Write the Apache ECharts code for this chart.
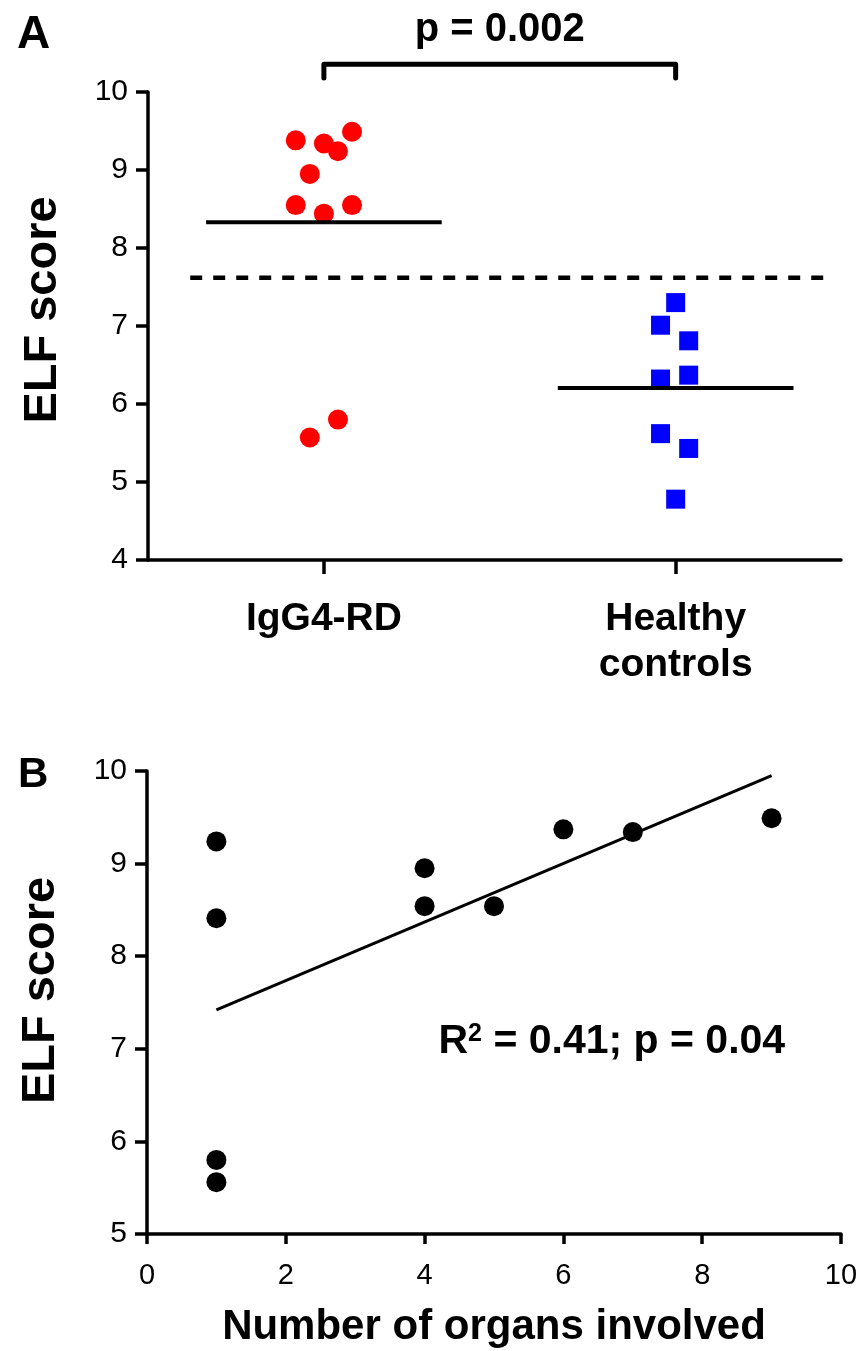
<!DOCTYPE html>
<html><head><meta charset="utf-8">
<script src="https://cdn.jsdelivr.net/npm/echarts@6/dist/echarts.min.js"></script>
<style>html,body{margin:0;padding:0;background:#fff}#c{width:862px;height:1351px}</style>
</head><body><div id="c"></div>
<script>
// ---- Panel A data ----
const groups = ['IgG4-RD', 'Healthy\ncontrols'];
const igg4Values = [9.38, 9.34, 9.24, 9.49, 8.95, 8.55, 8.44, 8.55, 5.80, 5.57];
const igg4Jitter = [-0.08, 0, 0.04, 0.08, -0.04, -0.08, 0, 0.08, 0.04, -0.04];
const controlValues = [7.30, 7.01, 6.81, 6.32, 6.37, 5.62, 5.43, 4.78];
const controlJitter = [0, -0.043, 0.037, -0.043, 0.037, -0.043, 0.037, 0];
const cutoffValue = 7.62;
const cutoffSpan = [0.62, 2.45];
const pValueText = 'p = 0.002';
const yRangeA = [4, 10];
// ---- Panel B data ----
const organsInvolved = [1, 1, 1, 1, 4, 4, 5, 6, 7, 9];
const elfScoresB = [9.24, 8.41, 5.80, 5.56, 8.95, 8.54, 8.54, 9.37, 9.34, 9.49];
const fitX = [1, 9];
const fitY = [7.42, 9.95];
const yRangeB = [5, 10];
const xRangeB = [0, 10];
const statText = ['R', '2', ' = 0.41; p = 0.04'];

const FONT = '"Liberation Sans", Arial, Helvetica, sans-serif';
const mean = a => a.reduce((s, v) => s + v, 0) / a.length;
const meanHalf = 0.335;

const chart = echarts.init(document.getElementById('c'), null, {renderer: 'canvas'});

const axisLine = {show: true, lineStyle: {color: '#000', width: 3.5}};
const tickStyle = (len) => ({show: true, length: len, lineStyle: {color: '#000', width: 3.5}});
const tickLabel = {color: '#000', fontSize: 30, fontFamily: FONT, margin: 20};

const mRed = mean(igg4Values), mBlue = mean(controlValues);

const option = {
  animation: false,
  backgroundColor: '#fff',
  grid: [
    {left: 148, right: 21, top: 92, height: 468, outerBoundsMode: 'none', containLabel: false},
    {left: 147, right: 21, top: 771, height: 463, outerBoundsMode: 'none', containLabel: false}
  ],
  xAxis: [
    {
      gridIndex: 0, type: 'value', min: 0.5, max: 2.47,
      axisLine: axisLine,
      axisTick: Object.assign(tickStyle(14), {customValues: [1, 2]}),
      axisLabel: {customValues: [1, 2], formatter: v => groups[Math.round(v) - 1] || '',
        color: '#000', fontSize: 39, fontWeight: 'bold', fontFamily: FONT, margin: 36, lineHeight: 46},
      splitLine: {show: false}
    },
    {
      gridIndex: 1, type: 'value', min: xRangeB[0], max: xRangeB[1], interval: 2,
      axisLine: axisLine, axisTick: tickStyle(10),
      axisLabel: Object.assign({}, tickLabel, {fontSize: 29, margin: 27, lineHeight: 30}),
      splitLine: {show: false},
      name: 'Number of organs involved', nameLocation: 'middle', nameGap: 72,
      nameTextStyle: {color: '#000', fontSize: 42, fontWeight: 'bold', fontFamily: FONT, lineHeight: 42}
    }
  ],
  yAxis: [
    {
      gridIndex: 0, type: 'value', min: yRangeA[0], max: yRangeA[1], interval: 1,
      axisLine: axisLine, axisTick: tickStyle(12), axisLabel: tickLabel,
      splitLine: {show: false},
      name: 'ELF score', nameLocation: 'middle', nameGap: 81, nameRotate: 90,
      nameTextStyle: {color: '#000', fontSize: 47, fontWeight: 'bold', fontFamily: FONT, lineHeight: 47, padding: [0, 0, 0, 32]}
    },
    {
      gridIndex: 1, type: 'value', min: yRangeB[0], max: yRangeB[1], interval: 1,
      axisLine: axisLine, axisTick: tickStyle(12), axisLabel: tickLabel,
      splitLine: {show: false},
      name: 'ELF score', nameLocation: 'middle', nameGap: 82, nameRotate: 90,
      nameTextStyle: {color: '#000', fontSize: 47, fontWeight: 'bold', fontFamily: FONT, lineHeight: 47, padding: [0, 0, 0, 24]}
    }
  ],
  series: [
    {
      type: 'scatter', xAxisIndex: 0, yAxisIndex: 0, z: 2,
      symbol: 'circle', symbolSize: 20, itemStyle: {color: '#ff0000', opacity: 1},
      data: igg4Values.map((v, i) => [1 + igg4Jitter[i], v])
    },
    {
      type: 'scatter', xAxisIndex: 0, yAxisIndex: 0, z: 2,
      symbol: 'rect', symbolSize: 19, itemStyle: {color: '#0000ff', opacity: 1},
      data: controlValues.map((v, i) => [2 + controlJitter[i], v])
    },
    {
      type: 'line', xAxisIndex: 0, yAxisIndex: 0, z: 4, symbol: 'none',
      lineStyle: {color: '#000', width: 4},
      data: [[1 - meanHalf, mRed], [1 + meanHalf, mRed]]
    },
    {
      type: 'line', xAxisIndex: 0, yAxisIndex: 0, z: 4, symbol: 'none',
      lineStyle: {color: '#000', width: 4},
      data: [[2 - meanHalf, mBlue], [2 + meanHalf, mBlue]]
    },
    {
      type: 'line', xAxisIndex: 0, yAxisIndex: 0, z: 4, symbol: 'none',
      lineStyle: {color: '#000', width: 4.5, type: [12, 11]},
      data: [[cutoffSpan[0], cutoffValue], [cutoffSpan[1], cutoffValue]]
    },
    {
      type: 'line', xAxisIndex: 0, yAxisIndex: 0, z: 4, symbol: 'none', clip: false,
      lineStyle: {color: '#000', width: 5, cap: 'round', join: 'round'},
      data: [[1, 10.18], [1, 10.357], [2, 10.357], [2, 10.18]]
    },
    {
      type: 'scatter', xAxisIndex: 1, yAxisIndex: 1, z: 2,
      symbol: 'circle', symbolSize: 20, itemStyle: {color: '#000', opacity: 1},
      data: organsInvolved.map((x, i) => [x, elfScoresB[i]])
    },
    {
      type: 'line', xAxisIndex: 1, yAxisIndex: 1, z: 4, symbol: 'none',
      lineStyle: {color: '#000', width: 3},
      data: fitX.map((x, i) => [x, fitY[i]])
    }
  ]
};
chart.setOption(option);

// annotation texts placed through the chart's scales
const pPos = chart.convertToPixel({gridIndex: 0}, [1.5, 10.357]);
const rPos = chart.convertToPixel({gridIndex: 1}, [4.2, 7.0]);
chart.setOption({
  graphic: [
    {type: 'text', left: 17, top: 12, style: {text: 'A', fill: '#000', font: 'bold 46px ' + FONT}},
    {type: 'text', left: 18, top: 754, style: {text: 'B', fill: '#000', font: 'bold 42px ' + FONT}},
    {type: 'text', x: pPos[0], y: pPos[1] - 34, style: {text: pValueText, fill: '#000', font: 'bold 40px ' + FONT, align: 'center', verticalAlign: 'middle'}},
    {type: 'text', x: rPos[0], y: rPos[1] - 7, style: {
      text: '{r|' + statText[0] + '}{s|' + statText[1] + '}{r|' + statText[2] + '}',
      align: 'left', verticalAlign: 'middle',
      rich: {
        r: {fontSize: 41, fontWeight: 'bold', fontFamily: FONT, fill: '#000', lineHeight: 41},
        s: {fontSize: 25, fontWeight: 'bold', fontFamily: FONT, fill: '#000', verticalAlign: 'top', lineHeight: 25}
      }
    }}
  ]
});
</script></body></html>
